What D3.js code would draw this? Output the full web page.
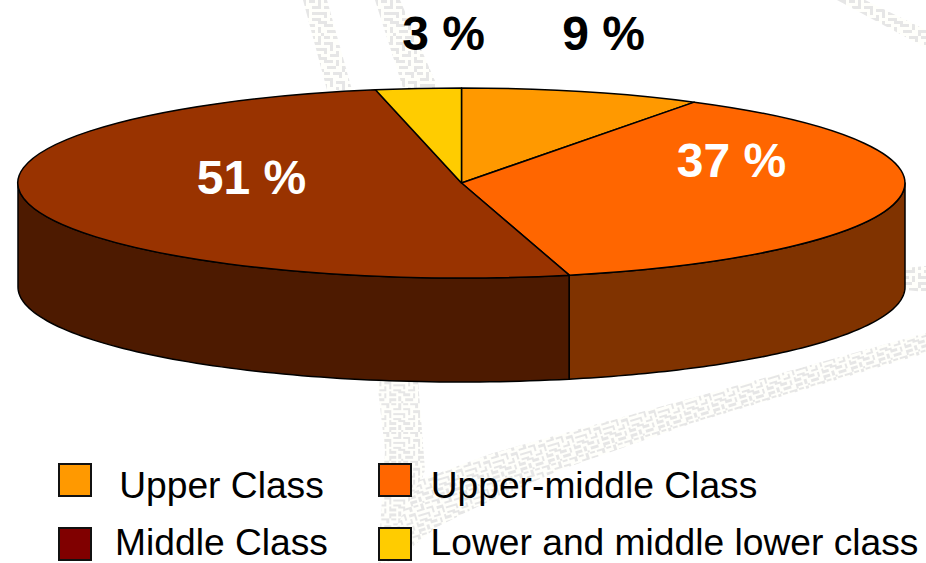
<!DOCTYPE html>
<html><head><meta charset="utf-8">
<script src="https://cdn.jsdelivr.net/npm/d3@7"></script>
<style>html,body{margin:0;padding:0;background:#fff}svg{display:block}text{font-family:"Liberation Sans",Arial,sans-serif}</style>
</head><body><div id="c"></div>
<script>
const categories=["Upper Class","Upper-middle Class","Middle Class","Lower and middle lower class"];
const values=[8.8,37.3,50.8,3.1];
const labels=["9 %","37 %","51 %","3 %"];
const topColors=["#ff9900","#ff6600","#993300","#ffcc00"];
const sideColors=["#804d00","#803300","#4d1a00","#806600"];
const swatchColors=["#ff9900","#ff6600","#800000","#ffcc00"];
const W=926,H=563,cx=461.5,cy=183,rx=443.5,ry=95,depth=104;
const svg=d3.select("#c").append("svg").attr("width",W).attr("height",H);
// dithered watermark
const defs=svg.append("defs");
const mazeRows=["##.###.##.#.",".....#....#.","###.....###.","..#.###.....","#.#...#.####","#...#.#.....","..###...###.","#.....#...##","###.#.###...","....#.....#.",".###..###.#.","......#....#"];
const mazeCells=[];
mazeRows.forEach((r,y)=>r.split("").forEach((c,x)=>{if(c==="#")mazeCells.push([x,y]);}));
function makePattern(id,tf){
  const pat=defs.append("pattern").attr("id",id).attr("patternUnits","userSpaceOnUse")
    .attr("width",12).attr("height",12).attr("patternTransform",tf);
  pat.append("rect").attr("width",12).attr("height",12).attr("fill","#fffffb");
  pat.selectAll("rect.c").data(mazeCells).enter().append("rect").attr("class","c")
    .attr("x",d=>d[0]).attr("y",d=>d[1]).attr("width",1).attr("height",1).attr("fill","#e6e6e6").attr("shape-rendering","crispEdges");
}
makePattern("dithA","scale(3)");
makePattern("dithB","scale(2.4)");
makePattern("dithC","rotate(-17) scale(2.4)");
const bands=[
 ["M303,0L327,0L352,90L327,90Z","dithA"],
 ["M375,0L400,0L438,88L403,88Z","dithA"],
 ["M837,0L865,0L926,30L926,48Z","dithA"],
 ["M905,268L926,266L926,292L905,290Z","dithA"],
 ["M377,380L418,380L425,470L392,563L378,563L385,450Z","dithB"],
 ["M420,480L493,453L926,333L926,353L693,423L560,470L477,507L437,527L392,563L378,563L400,520Z","dithC"]
];
svg.append("g").selectAll("path").data(bands).enter().append("path").attr("d",d=>d[0]).attr("fill",d=>`url(#${d[1]})`);

const pie=d3.pie().sort(null).value(d=>d)(values);
const sx=a=>cx+rx*Math.sin(a), sy=a=>cy-ry*Math.cos(a);
const g=svg.append("g");
const lineGen=d3.line().x(d=>d[0]).y(d=>d[1]);
pie.forEach((p,i)=>{
  const a0=Math.max(p.startAngle,Math.PI/2), a1=Math.min(p.endAngle,3*Math.PI/2);
  if(a1<=a0) return;
  const as=d3.range(0,81).map(k=>a0+(a1-a0)*k/80);
  const pts=as.map(a=>[sx(a),sy(a)]).concat(as.slice().reverse().map(a=>[sx(a),sy(a)+depth]));
  g.append("path").attr("d",lineGen(pts)+"Z").attr("fill",sideColors[i]).attr("stroke","#000").attr("stroke-width",1.5).attr("stroke-linejoin","round");
});
const arc=d3.arc().innerRadius(0).outerRadius(1);
g.append("g").attr("transform",`translate(${cx},${cy}) scale(${rx},${ry})`)
 .selectAll("path").data(pie).enter().append("path").attr("d",arc)
 .attr("fill",(d,i)=>topColors[i]).attr("stroke","#000").attr("stroke-width",1.5)
 .attr("stroke-linejoin","round").attr("vector-effect","non-scaling-stroke");
// value labels
const labelPos=[[603.5,33],[731.5,160],[251.5,177],[443.5,33]];
const labelFill=["#000","#fff","#fff","#000"];
svg.append("g").selectAll("text").data(labels).enter().append("text")
 .attr("x",(d,i)=>labelPos[i][0]).attr("y",(d,i)=>labelPos[i][1]).attr("dy","0.35em")
 .attr("text-anchor","middle").attr("font-size",48).attr("font-weight","bold").attr("fill",(d,i)=>labelFill[i]).text(d=>d);
// legend
const swPos=[[59,464],[379,464],[59,528],[379,528]];
const txPos=[[221.5,497.5],[594,497.5],[221.5,555],[674.5,555]];
const lg=svg.append("g");
lg.selectAll("rect").data(categories).enter().append("rect")
 .attr("x",(d,i)=>swPos[i][0]).attr("y",(d,i)=>swPos[i][1]).attr("width",32).attr("height",32)
 .attr("fill",(d,i)=>swatchColors[i]).attr("stroke","#111").attr("stroke-width",2);
lg.selectAll("text").data(categories).enter().append("text")
 .attr("x",(d,i)=>txPos[i][0]).attr("y",(d,i)=>txPos[i][1])
 .attr("text-anchor","middle").attr("font-size",37.2).attr("fill","#000").text(d=>d);
</script></body></html>
